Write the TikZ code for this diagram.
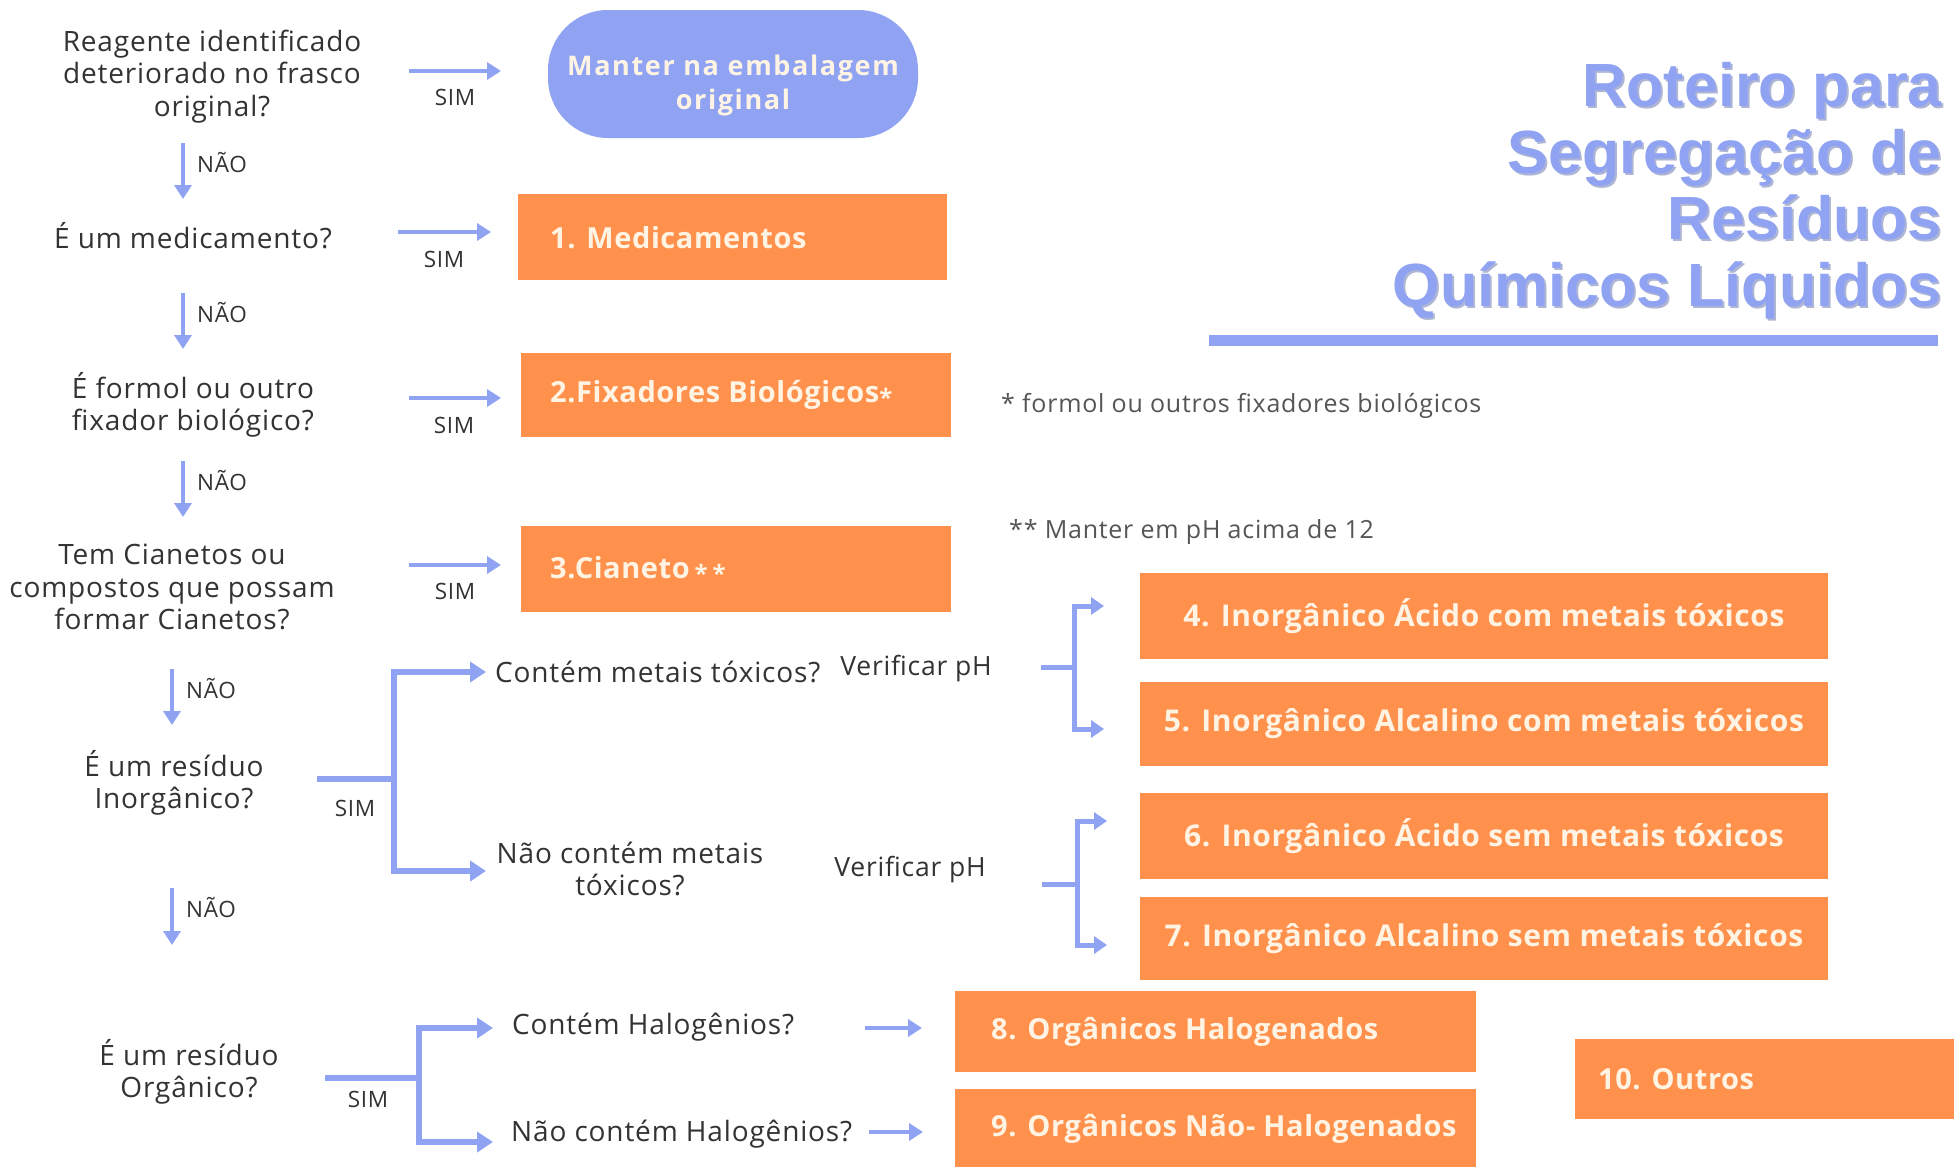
\documentclass[tikz,border=0pt]{standalone}
\usepackage{fontspec}
\setmainfont{Open Sans}[LetterSpace=3]
\newfontfamily\titlefont{Liberation Sans}
\newfontfamily\boxfont{Open Sans}[LetterSpace=2]
\newfontfamily\stadfont{Open Sans}[LetterSpace=6]
\usetikzlibrary{arrows.meta}
\definecolor{peri}{HTML}{8FA3F2}
\definecolor{perish}{HTML}{7A86B8}
\definecolor{orng}{HTML}{FF914D}
\definecolor{cream}{HTML}{FFF4E4}
\definecolor{txt}{HTML}{333333}
\definecolor{foottxt}{HTML}{555555}
\newcommand{\boxast}{{\fontsize{24}{24}\selectfont\raisebox{-4pt}{*}}}
\tikzset{
  q/.style={align=center, text=txt, inner sep=0pt, font=\fontsize{28}{32.5}\selectfont},
  lab/.style={text=txt, inner sep=0pt, font=\fontsize{22.5}{26}\selectfont},
  foot/.style={text=foottxt, inner sep=0pt, font=\fontsize{25}{28}\selectfont},
  obox/.style={fill=orng, text=cream, inner ysep=0pt, font=\boxfont\bfseries\fontsize{30}{34}\selectfont},
  lbox/.style={obox, anchor=north west, inner xsep=0pt, font=\boxfont\bfseries\fontsize{29}{34}\selectfont},
  arr/.style={draw=peri, line width=4.5pt, -{Triangle[length=14pt,width=17pt]}},
  barr/.style={draw=peri, line width=5.5pt, -{Triangle[length=16pt,width=20pt]}},
  bline/.style={draw=peri, line width=5.5pt},
  parr/.style={draw=peri, line width=5pt, -{Triangle[length=13pt,width=17pt]}},
  pline/.style={draw=peri, line width=5pt},
  ttl/.style={anchor=base east, inner sep=0pt, text=peri, font=\titlefont\bfseries\fontsize{61}{67}\selectfont},
  ttlsh/.style={anchor=base east, inner sep=0pt, text=perish!60, font=\titlefont\bfseries\fontsize{61}{67}\selectfont}
}
\begin{document}
\begin{tikzpicture}[x=1pt,y=-1pt]
\useasboundingbox[fill=white] (0,0) rectangle (1954,1167);

% ---------- title ----------
\node[ttlsh] (t1s) at (1944,108) {Roteiro para};
\node[ttlsh] (t2s) at (1944,175) {Segregação de};
\node[ttlsh] (t3s) at (1944,241) {Resíduos};
\node[ttlsh] (t4s) at (1944,308) {Químicos Líquidos};
\node[ttl] (t1) at (1942,106) {Roteiro para};
\node[ttl] (t2) at (1942,173) {Segregação de};
\node[ttl] (t3) at (1942,239) {Resíduos};
\node[ttl] (t4) at (1942,306) {Químicos Líquidos};
\fill[peri] (1209,335) rectangle (1938,346);

% ---------- left questions ----------
\node[q] (q1) at (212,76.5) {Reagente identificado\\deteriorado no frasco\\original?};
\node[q] (q2) at (193,236) {É um medicamento?};
\node[q] (q3) at (193,405) {É formol ou outro\\fixador biológico?};
\node[q] (q4) at (172,587) {Tem Cianetos ou\\compostos que possam\\formar Cianetos?};
\node[q] (q5) at (174,783) {É um resíduo\\Inorgânico?};
\node[q] (q6) at (189,1072) {É um resíduo\\Orgânico?};

% ---------- boxes ----------
\node[fill=peri, rounded corners=60pt, minimum width=370pt, minimum height=128pt] (s0) at (733,74) {};
\node[align=center, inner sep=0pt, text=cream, font=\stadfont\bfseries\fontsize{27}{34}\selectfont] (s0t) at (733,85) {Manter na embalagem\\original};
\node[lbox, minimum height=86pt] (b1) at (518,194) {\makebox[429pt][l]{\hspace*{32pt}1. Medicamentos}};
\node[lbox, minimum height=84pt] (b2) at (521,353) {\makebox[430pt][l]{\hspace*{29pt}2.Fixadores Biológicos\boxast}};
\node[lbox, minimum height=86pt] (b3) at (521,526) {\makebox[430pt][l]{\hspace*{29pt}3.Cianeto\,\boxast\,\boxast}};
\node[obox, minimum width=688pt, minimum height=86pt] (b4) at (1484,616) {4. Inorgânico Ácido com metais tóxicos};
\node[obox, minimum width=688pt, minimum height=84pt] (b5) at (1484,724) {5. Inorgânico Alcalino com metais tóxicos};
\node[obox, minimum width=688pt, minimum height=86pt] (b6) at (1484,836) {6. Inorgânico Ácido sem metais tóxicos};
\node[obox, minimum width=688pt, minimum height=83pt] (b7) at (1484,938.5) {7. Inorgânico Alcalino sem metais tóxicos};
\node[lbox, minimum height=81pt] (b8) at (955,991) {\makebox[521pt][l]{\hspace*{36pt}8. Orgânicos Halogenados}};
\node[lbox, minimum height=80pt] (b9) at (955,1089) {\makebox[521pt][l]{\hspace*{36pt}9. Orgânicos Não- Halogenados}};
\node[lbox, minimum height=80pt] (b10) at (1575,1039) {\makebox[385pt][l]{\hspace*{23pt}10. Outros}};

% ---------- footnotes ----------
\node[foot, anchor=west] (f1) at (1001,406) {* formol ou outros fixadores biológicos};
\node[foot, anchor=west] (f2) at (1009,532) {** Manter em pH acima de 12};

% ---------- middle questions ----------
\node[q, anchor=west] (m1) at (495,672) {Contém metais tóxicos?};
\node[q] (m2) at (630,869) {Não contém metais\\tóxicos?};
\node[q, font=\fontsize{26.5}{30}\selectfont] (ph1) at (916,669) {Verificar pH};
\node[q, font=\fontsize{26.5}{30}\selectfont] (ph2) at (910,870) {Verificar pH};
\node[q, anchor=west] (h1) at (512,1027) {Contém Halogênios?};
\node[q, anchor=west] (h2) at (511,1134) {Não contém Halogênios?};

% ---------- coordinates ----------
\coordinate (a1s) at (409,71);  \coordinate (a1e) at (501,71);
\coordinate (a2s) at (398,232); \coordinate (a2e) at (491,232);
\coordinate (a3s) at (409,398); \coordinate (a3e) at (501,398);
\coordinate (a4s) at (409,565); \coordinate (a4e) at (501,565);
\coordinate (d1s) at (183,143); \coordinate (d1e) at (183,199);
\coordinate (d2s) at (183,293); \coordinate (d2e) at (183,349);
\coordinate (d3s) at (183,461); \coordinate (d3e) at (183,517);
\coordinate (d4s) at (172,669); \coordinate (d4e) at (172,725);
\coordinate (d5s) at (172,888); \coordinate (d5e) at (172,945);
\coordinate (i0) at (317,779); \coordinate (ij) at (394,779);
\coordinate (i1) at (486,672); \coordinate (i2) at (486,871);
\coordinate (o0) at (325,1078); \coordinate (oj) at (419,1078);
\coordinate (o1) at (493,1028); \coordinate (o2) at (493,1142);
\coordinate (hs1) at (865,1028); \coordinate (he1) at (922,1028);
\coordinate (hs2) at (869,1132); \coordinate (he2) at (923,1132);
\coordinate (p0) at (1041,667); \coordinate (pj) at (1074,667);
\coordinate (p1) at (1104,606); \coordinate (p2) at (1104,729);
\coordinate (r0) at (1042,884); \coordinate (rj) at (1077,884);
\coordinate (r1) at (1107,821); \coordinate (r2) at (1107,945);

% ---------- SIM arrows ----------
\draw[arr] (a1s) -- (a1e);
\draw[arr] (a2s) -- (a2e);
\draw[arr] (a3s) -- (a3e);
\draw[arr] (a4s) -- (a4e);
\node[lab] (sim1) at (455,97) {SIM};
\node[lab] (sim2) at (444,259) {SIM};
\node[lab] (sim3) at (454,425) {SIM};
\node[lab] (sim4) at (455,591) {SIM};

% ---------- NÃO arrows ----------
\draw[arr] (d1s) -- (d1e);
\draw[arr] (d2s) -- (d2e);
\draw[arr] (d3s) -- (d3e);
\draw[arr] (d4s) -- (d4e);
\draw[arr] (d5s) -- (d5e);
\node[lab] (nao1) at (222,163) {NÃO};
\node[lab] (nao2) at (222,313) {NÃO};
\node[lab] (nao3) at (222,481) {NÃO};
\node[lab] (nao4) at (211,688) {NÃO};
\node[lab] (nao5) at (211,907) {NÃO};

% ---------- inorganic bracket ----------
\draw[bline] (i0) -- (ij);
\draw[barr] (ij) |- (i1);
\draw[barr] (ij) |- (i2);
\node[lab] (sim5) at (355,808) {SIM};

% ---------- organic bracket ----------
\draw[bline] (o0) -- (oj);
\draw[barr] (oj) |- (o1);
\draw[barr] (oj) |- (o2);
\node[lab] (sim6) at (368,1099) {SIM};
\draw[arr] (hs1) -- (he1);
\draw[arr] (hs2) -- (he2);

% ---------- pH brackets ----------
\draw[pline] (p0) -- (pj);
\draw[parr] (pj) |- (p1);
\draw[parr] (pj) |- (p2);
\draw[pline] (r0) -- (rj);
\draw[parr] (rj) |- (r1);
\draw[parr] (rj) |- (r2);
\end{tikzpicture}
\end{document}
